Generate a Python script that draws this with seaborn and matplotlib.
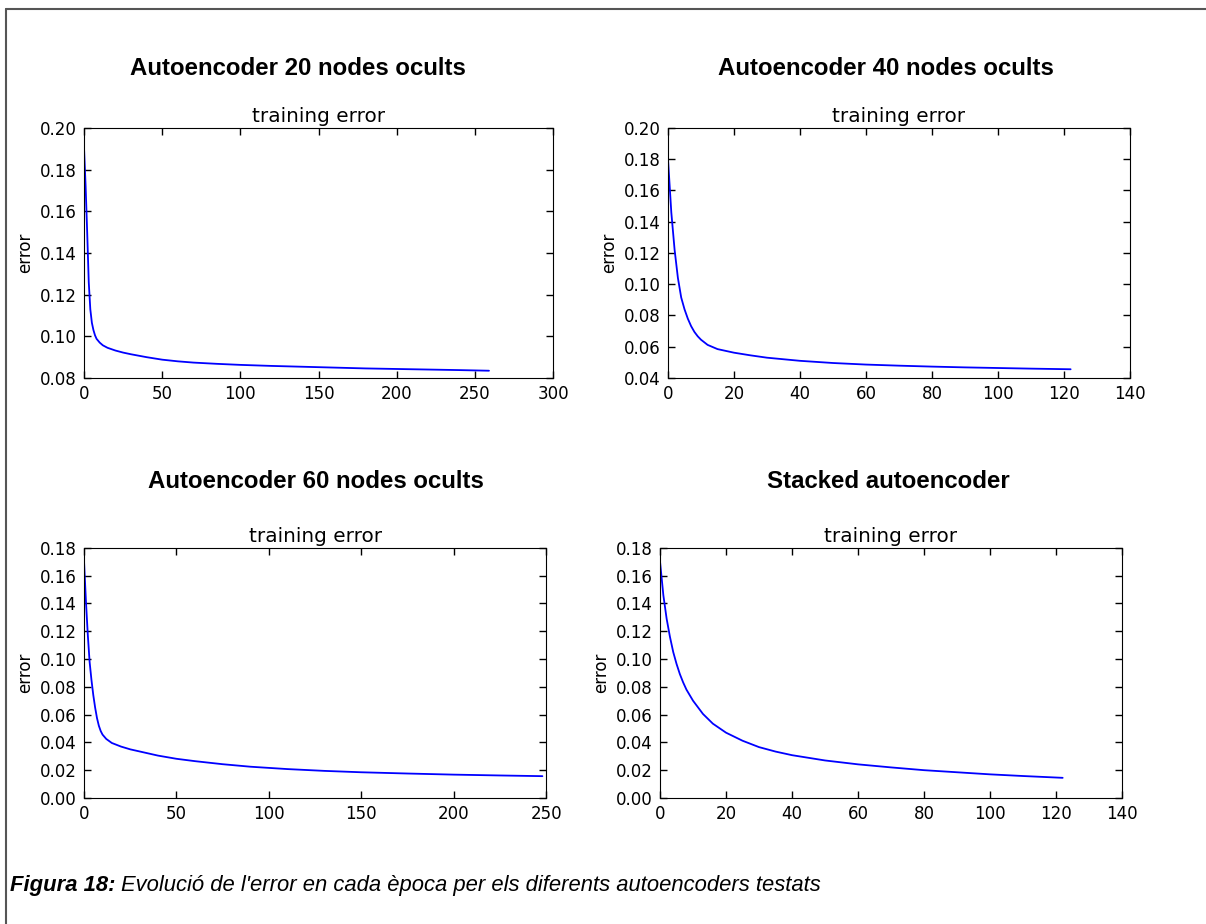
"""
Evolució de l'error d'entrenament dels autoencoders (Figura 18)
Quatre subgràfics amb l'error per època
"""

import matplotlib
matplotlib.use('Agg')
import matplotlib.pyplot as plt
from matplotlib.lines import Line2D
import pandas as pd
import seaborn as sns

# Autoencoder 20 nodes ocults
epochs_20 = [0, 1, 2, 3, 4, 5, 6, 7, 8, 10, 12, 15, 20, 25, 30, 40, 50, 60,
             70, 85, 100, 120, 150, 180, 210, 240, 259]
error_20 = [0.190, 0.172, 0.150, 0.126, 0.113, 0.1065, 0.1030, 0.1005, 0.0988,
            0.0970, 0.0957, 0.0945, 0.0932, 0.0922, 0.0914, 0.0900, 0.0888,
            0.0880, 0.0874, 0.0868, 0.0863, 0.0858, 0.0852, 0.0846, 0.0842,
            0.0838, 0.0835]

# Autoencoder 40 nodes ocults
epochs_40 = [0, 1, 2, 3, 4, 5, 6, 7, 8, 9, 10, 12, 15, 20, 25, 30, 40, 50,
             60, 70, 80, 90, 100, 110, 122]
error_40 = [0.180, 0.146, 0.122, 0.104, 0.0915, 0.0840, 0.0780, 0.0732,
            0.0695, 0.0667, 0.0645, 0.0612, 0.0585, 0.0562, 0.0545, 0.0530,
            0.0510, 0.0496, 0.0486, 0.0479, 0.0473, 0.0468, 0.0464, 0.0460,
            0.0456]

# Autoencoder 60 nodes ocults
epochs_60 = [0, 1, 2, 3, 4, 5, 6, 7, 8, 9, 10, 12, 15, 20, 25, 30, 40, 50,
             60, 75, 90, 110, 130, 150, 175, 200, 225, 248]
error_60 = [0.170, 0.142, 0.118, 0.098, 0.085, 0.074, 0.065, 0.0575, 0.0520,
            0.0482, 0.0456, 0.0425, 0.0396, 0.0370, 0.0350, 0.0335, 0.0305,
            0.0282, 0.0265, 0.0243, 0.0225, 0.0208, 0.0195, 0.0185, 0.0176,
            0.0168, 0.0162, 0.0157]

# Stacked autoencoder
epochs_stk = [0, 1, 2, 3, 4, 5, 6, 7, 8, 10, 13, 16, 20, 25, 30, 35, 40, 50,
              60, 70, 80, 90, 100, 110, 122]
error_stk = [0.170, 0.146, 0.129, 0.116, 0.105, 0.0965, 0.0892, 0.0832,
             0.0780, 0.0700, 0.0605, 0.0535, 0.0470, 0.0412, 0.0366, 0.0334,
             0.0308, 0.0270, 0.0242, 0.0220, 0.0200, 0.0185, 0.0170, 0.0158,
             0.0145]

titols = ['Autoencoder 20 nodes ocults', 'Autoencoder 40 nodes ocults',
          'Autoencoder 60 nodes ocults', 'Stacked autoencoder']
xlims = [(0, 300), (0, 140), (0, 250), (0, 140)]
xsteps = [50, 20, 50, 20]
ylims = [(0.08, 0.20), (0.04, 0.20), (0.0, 0.18), (0.0, 0.18)]

# posicions dels eixos (fracció de la figura)
posicions = [[0.0697, 0.5909, 0.3889, 0.2706],
             [0.5539, 0.5909, 0.3831, 0.2706],
             [0.0697, 0.1364, 0.3831, 0.2706],
             [0.5473, 0.1364, 0.3831, 0.2706]]
titol_xy = [(0.247, 0.926), (0.735, 0.926), (0.262, 0.479), (0.737, 0.479)]


def estil():
    sns.set_style('white', rc={
        'xtick.direction': 'in', 'ytick.direction': 'in',
        'xtick.top': True, 'ytick.right': True,
        'xtick.bottom': True, 'ytick.left': True,
        'axes.edgecolor': 'black', 'axes.linewidth': 1.0,
        'xtick.color': 'black', 'ytick.color': 'black',
        'text.color': 'black', 'axes.labelcolor': 'black',
    })
    plt.rcParams['font.family'] = ['DejaVu Sans']
    plt.rcParams['font.size'] = 12
    plt.rcParams['xtick.major.size'] = 5
    plt.rcParams['ytick.major.size'] = 5
    plt.rcParams['xtick.major.pad'] = 5
    plt.rcParams['ytick.major.pad'] = 5


def dibuixa_panell(fig, pos, x, y, xlim, xstep, ylim, titol, txy):
    ax = fig.add_axes(pos)
    df = pd.DataFrame({'epoca': x, 'error': y})
    sns.lineplot(data=df, x='epoca', y='error', color='#0000ff',
                 linewidth=1.3, ax=ax)
    ax.set_xlim(*xlim)
    ax.set_ylim(*ylim)
    ax.set_xticks(range(xlim[0], xlim[1] + 1, xstep))
    n = int(round((ylim[1] - ylim[0]) / 0.02))
    ax.set_yticks([ylim[0] + 0.02 * i for i in range(n + 1)])
    ax.yaxis.set_major_formatter(plt.FormatStrFormatter('%.2f'))
    ax.tick_params(labelsize=12, width=1, colors='black')
    ax.set_xlabel('')
    ax.set_ylabel('error', fontsize=12, color='black')
    ax.set_title('training error', fontsize=14.4, pad=4, color='black')
    fig.text(txy[0], txy[1], titol, ha='center', va='center', color='black',
             fontsize=17.3, fontweight='bold', family=['Liberation Sans'])
    return ax


def main():
    estil()
    fig = plt.figure(figsize=(12.06, 9.24), dpi=100)

    dades = [(epochs_20, error_20), (epochs_40, error_40),
             (epochs_60, error_60), (epochs_stk, error_stk)]
    for i, (x, y) in enumerate(dades):
        dibuixa_panell(fig, posicions[i], x, y, xlims[i], xsteps[i],
                       ylims[i], titols[i], titol_xy[i])

    # marc del document (només dalt i a l'esquerra)
    fig.add_artist(Line2D([0.0048, 1.0], [0.9905, 0.9905],
                          transform=fig.transFigure, color='#555555', lw=1.5))
    fig.add_artist(Line2D([0.0048, 0.0048], [0.0, 0.9905],
                          transform=fig.transFigure, color='#555555', lw=1.5))

    # peu de figura
    t1 = fig.text(0.0085, 0.042, 'Figura 18:', fontsize=15.8, style='italic',
                  fontweight='bold', family=['Liberation Sans'], va='center',
                  color='black')
    fig.canvas.draw()
    bb = t1.get_window_extent()
    x2 = (bb.x1 + 5) / fig.bbox.width
    fig.text(x2, 0.042, "Evolució de l'error en cada època per els diferents "
             "autoencoders testats", fontsize=15.8, style='italic',
             family=['Liberation Sans'], va='center', color='black')

    fig.savefig('out.png', dpi=100)


if __name__ == "__main__":
    main()
